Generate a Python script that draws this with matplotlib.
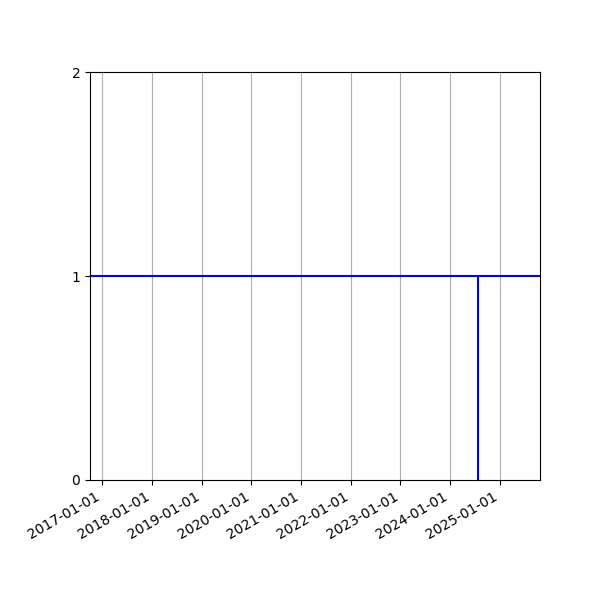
import matplotlib
matplotlib.use("Agg")
import matplotlib.pyplot as plt
import matplotlib.dates as mdates
import pandas as pd

# dados
datas_eventos = pd.to_datetime(["2024-07-27"])
nivel = 1
inicio = pd.Timestamp("2016-10-02")
fim = pd.Timestamp("2025-10-23")
anos_ticks = pd.date_range("2017-01-01", "2025-01-01", freq="YS")

fig, ax = plt.subplots(figsize=(6, 6), dpi=100)
fig.subplots_adjust(left=0.15, right=0.9, top=0.88, bottom=0.2)

ax.axhline(nivel, color="blue", linewidth=1.5)
ax.vlines(datas_eventos, 0, nivel, color="blue", linewidth=1.5)

ax.set_xlim(inicio, fim)
ax.set_ylim(0, 2)
ax.set_yticks([0, 1, 2])
ax.set_xticks(anos_ticks)
ax.xaxis.set_major_formatter(mdates.DateFormatter("%Y-%m-%d"))
ax.grid(axis="x")
fig.autofmt_xdate()
fig.subplots_adjust(left=0.15, right=0.9, top=0.88, bottom=0.2)

plt.savefig("out.png")
